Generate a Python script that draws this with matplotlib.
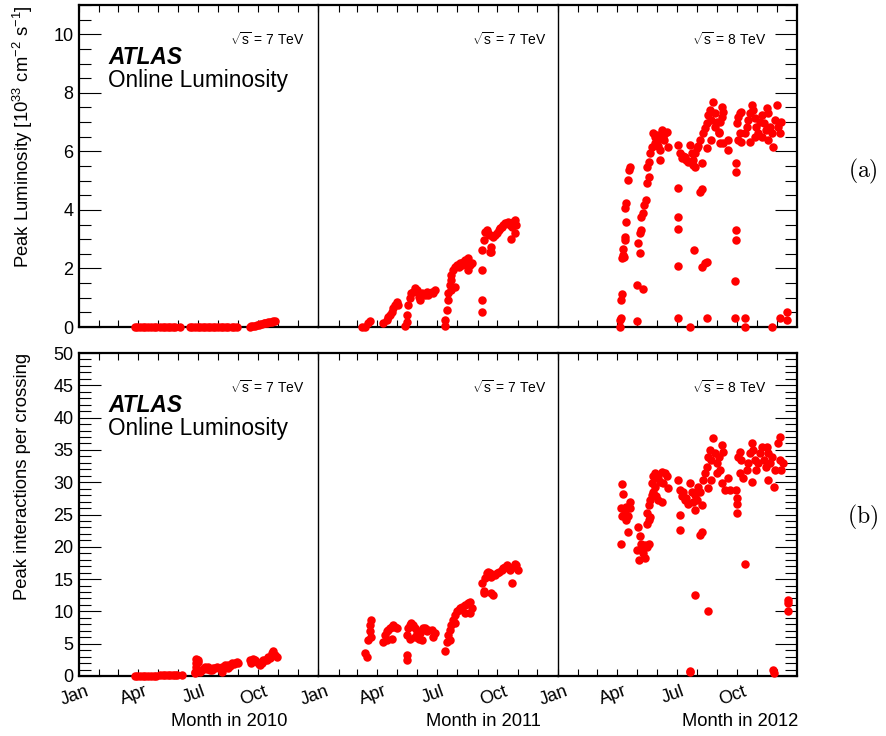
import datetime as dt
import matplotlib
matplotlib.use("Agg")
import matplotlib.pyplot as plt
import matplotlib.transforms as mtransforms
from matplotlib.ticker import MultipleLocator, FixedLocator, FixedFormatter

plt.rcParams['font.family'] = ['Liberation Sans', 'DejaVu Sans']
plt.rcParams['mathtext.fontset'] = 'custom'
plt.rcParams['mathtext.rm'] = 'Liberation Sans'
plt.rcParams['mathtext.it'] = 'Liberation Sans:italic'
plt.rcParams['mathtext.bf'] = 'Liberation Sans:bold'

years = [2010, 2011, 2012]
energies = ['7 TeV', '7 TeV', '8 TeV']
month_names = ['Jan', '', '', 'Apr', '', '', 'Jul', '', '', 'Oct', '', '']

# (day of year, peak luminosity in 1e33 cm^-2 s^-1)
lum_2010 = [(85, 0.0), (89, 0.0), (93, 0.0), (97, 0.0), (101, 0.0), (105, 0.0), (110, 0.0), (114, 0.0), (118, 0.0),
            (124, 0.0), (128, 0.0), (131, 0.0), (135, 0.0), (139, 0.0), (143, 0.0), (146, 0.0), (154, 0.0),
            (169, 0.0), (173, 0.0), (177, 0.0), (181, 0.0), (185, 0.0), (189, 0.0), (192, 0.0), (197, 0.0), (200, 0.0),
            (204, 0.0), (208, 0.0), (212, 0.0), (216, 0.0), (220, 0.0), (224, 0.0), (228, 0.0), (233, 0.0), (237, 0.0), (241, 0.0),
            (261, 0.0), (263, 0.02), (266, 0.04), (268, 0.05), (271, 0.07), (274, 0.08), (276, 0.09), (279, 0.1), (282, 0.12),
            (284, 0.13), (287, 0.15), (289, 0.16), (292, 0.18), (294, 0.17), (296, 0.2), (299, 0.19)]

lum_2011 = [(66, 0.0), (71, 0.01), (76, 0.13), (79, 0.22),
            (99, 0.13), (104, 0.24), (107, 0.35), (109, 0.41), (112, 0.52), (114, 0.64), (117, 0.75), (120, 0.86), (121, 0.75),
            (132, 0.03), (135, 0.18), (135, 0.41),
            (137, 0.75), (140, 0.98), (142, 1.15), (145, 1.21), (147, 1.32), (150, 1.26), (153, 1.04), (155, 0.92), (158, 1.15),
            (163, 1.09), (165, 1.21), (168, 1.09), (173, 1.21), (175, 1.15), (178, 1.26),
            (193, 0.03), (193, 0.24), (196, 0.58), (197, 0.92),
            (198, 1.15), (201, 1.43), (203, 1.61), (203, 1.78), (203, 1.26), (206, 1.95), (208, 2.06), (208, 1.38), (211, 2.12),
            (214, 2.06), (216, 2.18), (219, 2.12), (221, 2.23), (224, 2.29), (226, 2.18), (229, 2.35), (229, 1.95), (231, 2.12), (234, 2.18),
            (249, 1.95), (249, 0.92), (249, 0.52),
            (249, 2.63), (252, 2.97), (254, 3.26), (257, 3.31), (259, 3.2), (262, 3.14), (262, 2.57), (264, 2.57), (264, 2.74),
            (267, 3.09), (269, 3.14), (272, 3.2), (275, 3.31), (277, 3.37), (280, 3.43), (282, 3.48), (285, 3.54), (287, 3.54),
            (290, 3.6), (292, 3.48), (294, 3.0), (295, 3.43), (297, 3.6), (300, 3.66), (300, 3.2), (302, 3.48)]

lum_2012 = [(95, 0.0), (96, 0.25), (97, 0.3), (97, 0.92), (99, 1.13), (99, 2.35), (100, 2.45), (102, 2.4), (100, 2.66),
            (103, 2.97), (103, 3.07), (104, 3.6), (103, 4.07), (105, 4.24), (108, 5.02), (109, 5.36), (111, 5.48),
            (121, 0.2), (122, 1.43), (131, 1.3), (123, 2.87), (126, 2.53), (126, 3.2), (127, 3.3), (128, 3.77), (131, 3.9),
            (132, 4.17), (135, 4.34), (136, 4.92), (139, 5.13), (136, 5.48), (139, 5.65), (141, 5.94),
            (144, 6.16), (149, 6.27), (154, 6.39), (149, 6.5), (146, 6.62), (159, 6.73), (164, 6.62), (167, 6.67), (156, 5.7),
            (154, 6.2), (161, 6.5), (169, 6.16), (156, 6.05), (152, 6.55), (158, 6.45), (163, 6.4),
            (184, 6.22), (187, 5.93), (190, 5.76), (192, 5.85), (197, 5.7), (202, 6.22), (205, 5.93), (207, 5.7), (210, 5.48),
            (210, 5.93), (213, 6.1), (215, 6.2), (207, 5.55), (195, 5.8), (200, 5.65), (221, 5.61),
            (184, 4.74), (184, 3.77), (184, 3.34), (184, 2.08), (184, 0.32), (202, 0.01), (209, 2.63), (218, 4.62), (220, 4.7),
            (221, 2.06), (225, 2.17), (229, 2.23), (229, 0.32),
            (218, 6.39), (223, 6.62), (226, 6.79), (228, 6.96), (230, 7.24), (233, 7.41), (235, 7.07), (238, 7.7), (241, 7.3),
            (243, 7.01), (246, 6.67), (248, 7.01), (251, 7.53), (251, 7.18), (253, 7.36), (248, 6.27), (253, 6.27), (261, 6.39),
            (261, 6.05), (235, 6.39), (228, 6.1), (241, 6.84), (246, 6.62),
            (272, 5.59), (272, 5.31), (272, 3.31), (272, 2.97), (271, 1.58), (271, 0.32), (286, 0.32), (286, 0.01),
            (274, 6.96), (276, 7.18), (279, 7.3), (281, 7.36), (279, 6.62), (276, 6.39), (281, 6.33), (286, 6.62), (289, 6.84),
            (291, 7.07), (294, 7.3), (297, 7.58), (299, 7.41), (302, 7.13), (304, 6.84), (307, 6.62), (310, 7.01), (312, 7.24),
            (315, 6.96), (318, 6.73), (320, 7.47), (322, 7.3), (325, 6.84), (328, 6.62), (321, 6.39), (330, 6.16), (333, 7.07),
            (335, 7.58), (337, 6.84), (340, 6.62), (342, 7.01), (294, 6.33), (302, 6.5), (312, 6.5),
            (328, 0.01), (340, 0.32), (350, 0.52), (350, 0.24)]

# (day of year, peak interactions per crossing)
mu_2010 = [(85, 0.05), (89, 0.05), (93, 0.05), (97, 0.05), (101, 0.05), (105, 0.05), (110, 0.05), (114, 0.05), (118, 0.05),
           (124, 0.2), (128, 0.2), (131, 0.2), (135, 0.2), (139, 0.2), (143, 0.2), (146, 0.2), (150, 0.2), (157, 0.1),
           (177, 0.4), (177, 0.67), (179, 1.44), (179, 2.0), (179, 2.7), (180, 2.4), (181, 1.0), (182, 2.2), (182, 2.5), (184, 0.8),
           (185, 0.67), (188, 1.0), (190, 1.2), (192, 1.44), (195, 1.1), (197, 1.44), (200, 0.9), (203, 1.0), (205, 1.2), (208, 1.3),
           (210, 1.44), (213, 1.3), (215, 1.2), (218, 1.44), (218, 0.67), (221, 1.3), (223, 1.7), (226, 1.5), (228, 1.7), (228, 1.2),
           (231, 1.6), (233, 2.0), (236, 1.8), (238, 2.0), (241, 2.1), (243, 2.0),
           (261, 2.5), (263, 2.0), (266, 2.7), (268, 2.4), (271, 2.2), (274, 1.8), (276, 1.7), (279, 2.0), (281, 2.5), (284, 2.4),
           (286, 2.5), (289, 3.0), (291, 2.8), (294, 3.5), (296, 3.8), (299, 3.2), (302, 3.0)]

mu_2011 = [(71, 3.5), (74, 3.0), (76, 5.6), (79, 6.9), (79, 7.9), (80, 6.1), (81, 8.7),
           (99, 5.3), (102, 6.3), (104, 6.9), (104, 5.6), (107, 7.1), (109, 7.4), (112, 7.6), (112, 5.8), (114, 7.9), (117, 7.6), (120, 7.4),
           (135, 3.3), (135, 2.5),
           (135, 6.3), (137, 7.4), (140, 7.9), (140, 5.8), (142, 8.2), (145, 7.9), (147, 7.4), (147, 6.1), (150, 6.6), (153, 5.8),
           (155, 6.6), (158, 7.1), (158, 5.6), (160, 7.4), (163, 7.4), (165, 6.9), (168, 7.1), (173, 7.1), (175, 6.1), (178, 6.6),
           (193, 3.8), (196, 5.3), (198, 6.3), (201, 7.1), (201, 5.6), (203, 7.9), (206, 8.7), (208, 9.4), (208, 8.2), (211, 10.0),
           (214, 10.2), (216, 10.5), (219, 10.7), (224, 11.0), (224, 9.7), (229, 11.3), (231, 11.5), (231, 9.7), (234, 10.5),
           (249, 14.4), (252, 13.1), (252, 12.8), (254, 15.1), (257, 15.9), (259, 16.1), (262, 15.9), (264, 15.4), (264, 12.8),
           (267, 12.5), (269, 15.6), (272, 15.9), (275, 16.1), (280, 16.4), (282, 16.7), (285, 16.9), (287, 17.2), (290, 16.7),
           (292, 16.4), (295, 14.4), (297, 16.9), (300, 17.4), (302, 17.2), (305, 16.4)]

mu_2012 = [(98, 29.7), (100, 28.2), (97, 26.0), (99, 24.7), (103, 25.2), (105, 24.1), (108, 24.7), (111, 26.0), (111, 27.0),
           (105, 26.2), (107, 22.3), (97, 20.4),
           (121, 19.5), (123, 23.1), (126, 21.6), (128, 20.5), (131, 19.8), (134, 20.3), (136, 20.0), (139, 20.5), (124, 18.0),
           (134, 18.2), (131, 19.0), (136, 23.6), (139, 24.1), (137, 25.2), (141, 24.6),
           (139, 26.5), (141, 27.2), (144, 28.0), (146, 28.5), (149, 29.3), (151, 27.8), (154, 27.2), (159, 27.0), (144, 29.8),
           (146, 30.9), (149, 31.4), (154, 30.6), (159, 31.6), (164, 31.4), (167, 30.9), (169, 29.1), (161, 29.8), (156, 30.1),
           (184, 30.3), (187, 28.8), (190, 27.8), (195, 27.2), (197, 27.5), (202, 29.8), (205, 28.5), (210, 28.0), (210, 25.7),
           (213, 27.2), (215, 29.3), (218, 28.5), (221, 26.5), (207, 27.0), (192, 28.5), (200, 26.7), (213, 28.5),
           (187, 25.0), (187, 22.6), (220, 22.3), (218, 21.8), (210, 12.5), (230, 10.1), (202, 0.7), (203, 0.6),
           (223, 30.3), (226, 31.4), (228, 32.4), (230, 33.9), (233, 35.0), (235, 33.4), (238, 36.8), (241, 34.5), (243, 32.9),
           (246, 33.9), (248, 31.9), (251, 35.8), (253, 34.7), (251, 29.8), (256, 28.8), (261, 30.6), (264, 28.8), (235, 30.3),
           (230, 29.1), (243, 31.4),
           (272, 28.8), (274, 27.5), (275, 26.7), (275, 25.3), (287, 17.3),
           (276, 33.9), (279, 34.7), (281, 33.4), (279, 31.4), (284, 30.6), (289, 31.9), (291, 32.9), (294, 34.5), (297, 36.0),
           (299, 35.0), (302, 33.4), (304, 31.9), (307, 32.9), (310, 34.5), (312, 35.5), (315, 33.4), (318, 32.4), (320, 35.5),
           (322, 34.5), (325, 32.9), (328, 33.9), (331, 29.3), (333, 31.9), (337, 36.0), (340, 37.0), (340, 33.4), (342, 31.9),
           (345, 32.9), (322, 30.3), (297, 30.1),
           (331, 0.4), (330, 0.9), (353, 11.8), (353, 11.3), (353, 10.1)]

lum_series = [lum_2010, lum_2011, lum_2012]
mu_series = [mu_2010, mu_2011, mu_2012]

W, H = 886, 736
fig = plt.figure(figsize=(W / 100, H / 100), dpi=100)


def rect(left, top, width, height):
    return [left / W, 1 - (top + height) / H, width / W, height / H]


PANEL_L = 79
PANEL_W = 239.33
ROWS = [dict(top=5, height=322, ymax=11, major=2, minor=0.5, series=lum_series,
             ylabel='Peak Luminosity [10$^{33}$ cm$^{-2}$ s$^{-1}$]', tag='(a)', tag_y=171),
        dict(top=353, height=323, ymax=50, major=5, minor=1, series=mu_series,
             ylabel='Peak interactions per crossing', tag='(b)', tag_y=517)]
text_right = [305, 547, 767]
month_title_right = [287, 541, 798]
label_shift = mtransforms.ScaledTranslation(-4 / 100, 0, fig.dpi_scale_trans)

for r, row in enumerate(ROWS):
    for i, year in enumerate(years):
        ax = fig.add_axes(rect(PANEL_L + i * PANEL_W, row['top'], PANEL_W, row['height']))
        ax.patch.set_visible(False)
        first = dt.date(year, 1, 1)
        ndays = (dt.date(year + 1, 1, 1) - first).days
        month_days = [(dt.date(year, m, 1) - first).days for m in range(1, 13)]
        pts = row['series'][i]
        ax.plot([p[0] for p in pts], [p[1] for p in pts], 'o', color='#ff0000',
                ms=6.1, mew=0, clip_on=False, zorder=3)
        ax.set_xlim(0, ndays)
        ax.set_ylim(0, row['ymax'])

        ax.xaxis.set_major_locator(FixedLocator(month_days))
        if r == 1:
            ax.xaxis.set_major_formatter(FixedFormatter(month_names))
        else:
            ax.xaxis.set_major_formatter(FixedFormatter([''] * 12))
        ax.tick_params(axis='x', which='major', direction='in', top=True, bottom=True,
                       length=5, width=0.8, labelsize=13, pad=5)
        for lab in ax.get_xticklabels():
            lab.set_rotation(20)
            lab.set_ha('center')
            lab.set_transform(lab.get_transform() + label_shift)

        ax.yaxis.set_major_locator(MultipleLocator(row['major']))
        ax.yaxis.set_minor_locator(MultipleLocator(row['minor']))
        ax.tick_params(axis='y', which='major', direction='in', length=16, width=0.8,
                       labelsize=13, pad=4)
        ax.tick_params(axis='y', which='minor', direction='in', length=8.5, width=0.8)
        ax.tick_params(axis='y', which='both', left=(i == 0), right=(i == 2),
                       labelleft=(i == 0), labelright=False)

        for side in ('top', 'bottom'):
            ax.spines[side].set_linewidth(1.6)
        ax.spines['right'].set_linewidth(1.6 if i == 2 else 1.0)
        ax.spines['right'].set_color('black')
        ax.spines['left'].set_linewidth(1.6)
        if i > 0:
            ax.spines['left'].set_visible(False)

        # centre-of-mass energy label
        fig.text(text_right[i] / W, 1 - (row['top'] + 35) / H,
                 r'$\sqrt{\mathrm{s}}$ = ' + energies[i], ha='right', va='center', fontsize=10)

        if r == 1:
            fig.text(month_title_right[i] / W, 1 - 722 / H, f'Month in {year}',
                     ha='right', va='center', fontsize=13.2)

    fig.text(108 / W, 1 - (row['top'] + 53) / H, 'ATLAS', fontsize=16.3,
             fontweight='bold', fontstyle='italic', ha='left', va='center')
    fig.text(108 / W, 1 - (row['top'] + 75) / H, 'Online Luminosity', fontsize=16.3,
             ha='left', va='center')
    fig.text(22.5 / W, 1 - row['top'] / H, row['ylabel'], rotation=90,
             ha='center', va='top', fontsize=13.3)
    fig.text(863 / W, 1 - row['tag_y'] / H, r'$\mathrm{' + row['tag'] + '}$',
             math_fontfamily='cm', ha='center', va='center', fontsize=17)

fig.savefig('out.png', dpi=100)
